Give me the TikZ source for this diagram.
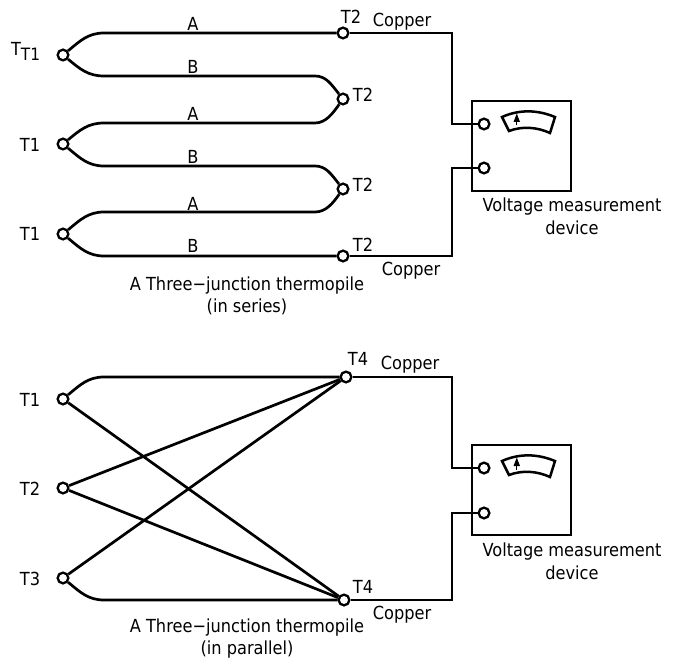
\documentclass[tikz,border=0pt]{standalone}
\usepackage{fontspec}
\setmainfont[FakeStretch=0.9]{DejaVu Sans}
\begin{document}
\begin{tikzpicture}[x=1pt,y=-1pt,
  wire/.style={line width=2.7pt,line join=miter},
  term/.style={circle,draw,line width=2.5pt,fill=white,inner sep=0pt,minimum size=10.5pt},
  lbl/.style={inner sep=0pt,yshift=-1pt,font=\fontsize{18}{22}\selectfont,align=center,text=black},
  meter/.style={draw,line width=2.7pt,minimum width=99pt,minimum height=90pt,inner sep=0pt}]
\useasboundingbox (0,0) rectangle (675,658);
% boxes
\node[meter] (m1) at (521.5,146) {};
\node[meter] (m2) at (521.5,490) {};
% junctions top
\node[term] (a1) at (63,55) {};
\node[term] (a2) at (63,144) {};
\node[term] (a3) at (63,234) {};
\node[term] (b1) at (343,33) {};
\node[term] (b2) at (343,99) {};
\node[term] (b3) at (343,189) {};
\node[term] (b4) at (343,256) {};
\node[term] (p1) at (484,124) {};
\node[term] (p2) at (484,168) {};
% junctions bottom
\node[term] (c1) at (63,399) {};
\node[term] (c2) at (63,488) {};
\node[term] (c3) at (63,578) {};
\node[term] (d1) at (346,377) {};
\node[term] (d2) at (344,600) {};
\node[term] (q1) at (484,468) {};
\node[term] (q2) at (484,513) {};
% top wires
\draw[wire] (a1) .. controls (80,41) and (88,33) .. (104,33) -- (b1);
\draw[wire] (a1) .. controls (80,69) and (88,76) .. (104,76) -- (315,76) .. controls (326,76) and (331,84) .. (b2);
\draw[wire] (a2) .. controls (80,130) and (88,123) .. (104,123) -- (315,123) .. controls (326,123) and (333,113) .. (b2);
\draw[wire] (a2) .. controls (80,158) and (88,166) .. (104,166) -- (315,166) .. controls (326,166) and (331,174) .. (b3);
\draw[wire] (a3) .. controls (80,220) and (88,212) .. (104,212) -- (315,212) .. controls (326,212) and (333,203) .. (b3);
\draw[wire] (a3) .. controls (80,248) and (88,256) .. (104,256) -- (b4);
\coordinate (k1) at (452,33);
\coordinate (k2) at (452,124);
\coordinate (k3) at (452,256);
\coordinate (k4) at (452,168);
\draw[wire] (b1) -- (k1) -- (k2) -- (p1);
\draw[wire] (b4) -- (k3) -- (k4) -- (p2);
% bottom wires
\draw[wire] (c1) .. controls (80,385) and (88,377) .. (104,377) -- (d1);
\draw[wire] (c1) -- (d2);
\draw[wire] (c2) -- (d1);
\draw[wire] (c2) -- (d2);
\draw[wire] (c3) -- (d1);
\draw[wire] (c3) .. controls (80,592) and (88,600) .. (104,600) -- (d2);
\coordinate (k5) at (452,377);
\coordinate (k6) at (452,468);
\coordinate (k7) at (452,600);
\coordinate (k8) at (452,513);
\draw[wire] (d1) -- (k5) -- (k6) -- (q1);
\draw[wire] (d2) -- (k7) -- (k8) -- (q2);
% redraw terminals over wires
\foreach \n in {a1,a2,a3,b1,b2,b3,b4,p1,p2,c1,c2,c3,d1,d2,q1,q2}
  \fill[white] (\n) circle (3.8pt);
% dials
\foreach \dy in {0,344}{
  \begin{scope}[yshift=-\dy pt]
  \draw[line width=2.5pt,line join=miter] (502,117) .. controls (520,109) and (538,110) .. (555,117) -- (550,133) .. controls (537,127) and (522,126) .. (509,131) -- cycle;
  \draw[line width=1.8pt] (516.5,125.5) -- (516.5,118);
  \fill (516.8,113.5) -- (520,122) -- (513.5,122) -- cycle;
  \end{scope}}
% labels top
\node[lbl] (t1) at (25.5,50) {T\raisebox{-5pt}{\fontsize{17}{20}\selectfont T1}};
\node[lbl] (t2) at (30,144) {T1};
\node[lbl] (t3) at (30,233) {T1};
\node[lbl] at (193,23) {A};
\node[lbl] at (193,66) {B};
\node[lbl] at (193,113) {A};
\node[lbl] at (193,156) {B};
\node[lbl] at (193,203) {A};
\node[lbl] at (193,245) {B};
\node[lbl] at (351,16) {T2};
\node[lbl] at (363,94) {T2};
\node[lbl] at (363,184) {T2};
\node[lbl] at (363,244) {T2};
\node[lbl] at (402,20.5) {Copper};
\node[lbl] at (411,270) {Copper};
\node[lbl] at (572,215.5) {Voltage measurement\\[1pt]device};
\node[lbl] at (247,295) {A Three−junction thermopile\\(in series)};
% labels bottom
\node[lbl] at (30,399) {T1};
\node[lbl] at (30,488) {T2};
\node[lbl] at (30,578) {T3};
\node[lbl] at (358,358) {T4};
\node[lbl] at (363,586) {T4};
\node[lbl] at (410,364) {Copper};
\node[lbl] at (402,614) {Copper};
\node[lbl] at (572,560.5) {Voltage measurement\\[1pt]device};
\node[lbl] at (247,638) {A Three−junction thermopile\\(in parallel)};
\end{tikzpicture}
\end{document}
